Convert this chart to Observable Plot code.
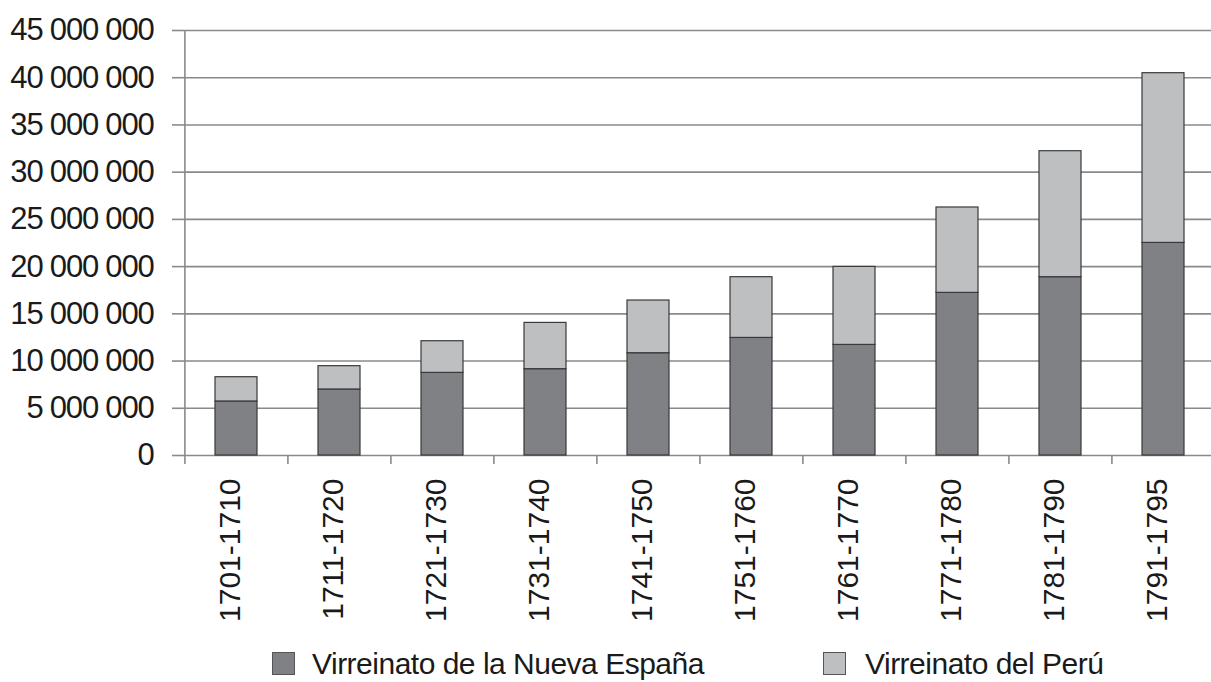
<!DOCTYPE html>
<html>
<head>
<meta charset="utf-8">
<script src="https://cdn.jsdelivr.net/npm/d3@7"></script>
<script src="https://cdn.jsdelivr.net/npm/@observablehq/plot@0.6"></script>
<style>
  html, body { margin: 0; padding: 0; background: #fff; }
  #wrap { position: relative; width: 1211px; height: 682px; overflow: hidden; font-family: "Liberation Sans", Arial, sans-serif; color: #1a1a1a; }
  #wrap svg { display: block; }
  g[aria-label="y-axis tick label"] text { letter-spacing: -1.2px; font-size: 31px; }
  .lg-sw { position: absolute; width: 23px; height: 23px; box-sizing: border-box; border: 1.5px solid #555; }
  .lg-tx { position: absolute; font-size: 30px; letter-spacing: -0.5px; line-height: 30px; white-space: nowrap; }
</style>
</head>
<body>
<div id="wrap"></div>
<script>
const periods = ["1701-1710","1711-1720","1721-1730","1731-1740","1741-1750","1751-1760","1761-1770","1771-1780","1781-1790","1791-1795"];
const regions = ["Virreinato de la Nueva España", "Virreinato del Perú"];
const nuevaEspana = [5720000, 6990000, 8750000, 9140000, 10830000, 12450000, 11710000, 17220000, 18880000, 22510000];
const peru = [2570000, 2470000, 3350000, 4900000, 5580000, 6430000, 8260000, 9040000, 13340000, 17970000];
const yTicks = [0, 5000000, 10000000, 15000000, 20000000, 25000000, 30000000, 35000000, 40000000, 45000000];
const colors = ["#808184", "#bebfc1"];

const rows = periods.flatMap((p, i) => [
  {period: p, region: regions[0], value: nuevaEspana[i]},
  {period: p, region: regions[1], value: peru[i]}
]);

const fmt = d3.formatLocale({thousands: " ", grouping: [3], decimal: ","}).format(",");

const W = 1211, H = 640;
const xRange = [184, 1216];
const step = (xRange[1] - xRange[0]) / periods.length;
const gridColor = "#8a8a8a";
const gridWidth = 1.6;

const chart = Plot.plot({
  width: W,
  height: H,
  marginTop: 30,
  marginLeft: 184,
  marginRight: 0,
  marginBottom: H - 455,
  style: {fontFamily: "'Liberation Sans', Arial, sans-serif", fontSize: "30px", color: "#1a1a1a", background: "#fff"},
  x: {domain: periods, range: xRange, paddingInner: 0.59, paddingOuter: 0.295, label: null},
  y: {domain: [0, 45000000], label: null},
  color: {domain: regions, range: colors},
  marks: [
    Plot.ruleY(yTicks, {stroke: gridColor, strokeWidth: gridWidth}),
    Plot.axisY({ticks: yTicks, tickFormat: fmt, tickSize: 12, tickPadding: 19, stroke: gridColor, strokeWidth: gridWidth, label: null}),
    Plot.ruleX([periods[0]], {dx: -step / 2, y1: 0, y2: 45000000, stroke: gridColor, strokeWidth: gridWidth}),
    Plot.axisX({ticks: periods, tickSize: 9, tickFormat: () => "", dx: -step / 2, stroke: gridColor, strokeWidth: gridWidth, label: null}),
    Plot.axisX({ticks: periods, tickSize: 0, tickPadding: 23, tickRotate: -90, dx: -6, label: null}),
    Plot.barY(rows, {x: "period", y: "value", fill: "region", stroke: "#3a3a3a", strokeWidth: 1.2})
  ]
});

const wrap = document.getElementById("wrap");
wrap.appendChild(chart);

const legend = [
  {sw: 272, tx: 312},
  {sw: 823, tx: 865}
];
regions.forEach((r, i) => {
  const s = document.createElement("div");
  s.className = "lg-sw";
  s.style.left = legend[i].sw + "px";
  s.style.top = "652px";
  s.style.background = colors[i];
  wrap.appendChild(s);
  const t = document.createElement("div");
  t.className = "lg-tx";
  t.style.left = legend[i].tx + "px";
  t.style.top = "649px";
  t.textContent = r;
  wrap.appendChild(t);
});
</script>
</body>
</html>
